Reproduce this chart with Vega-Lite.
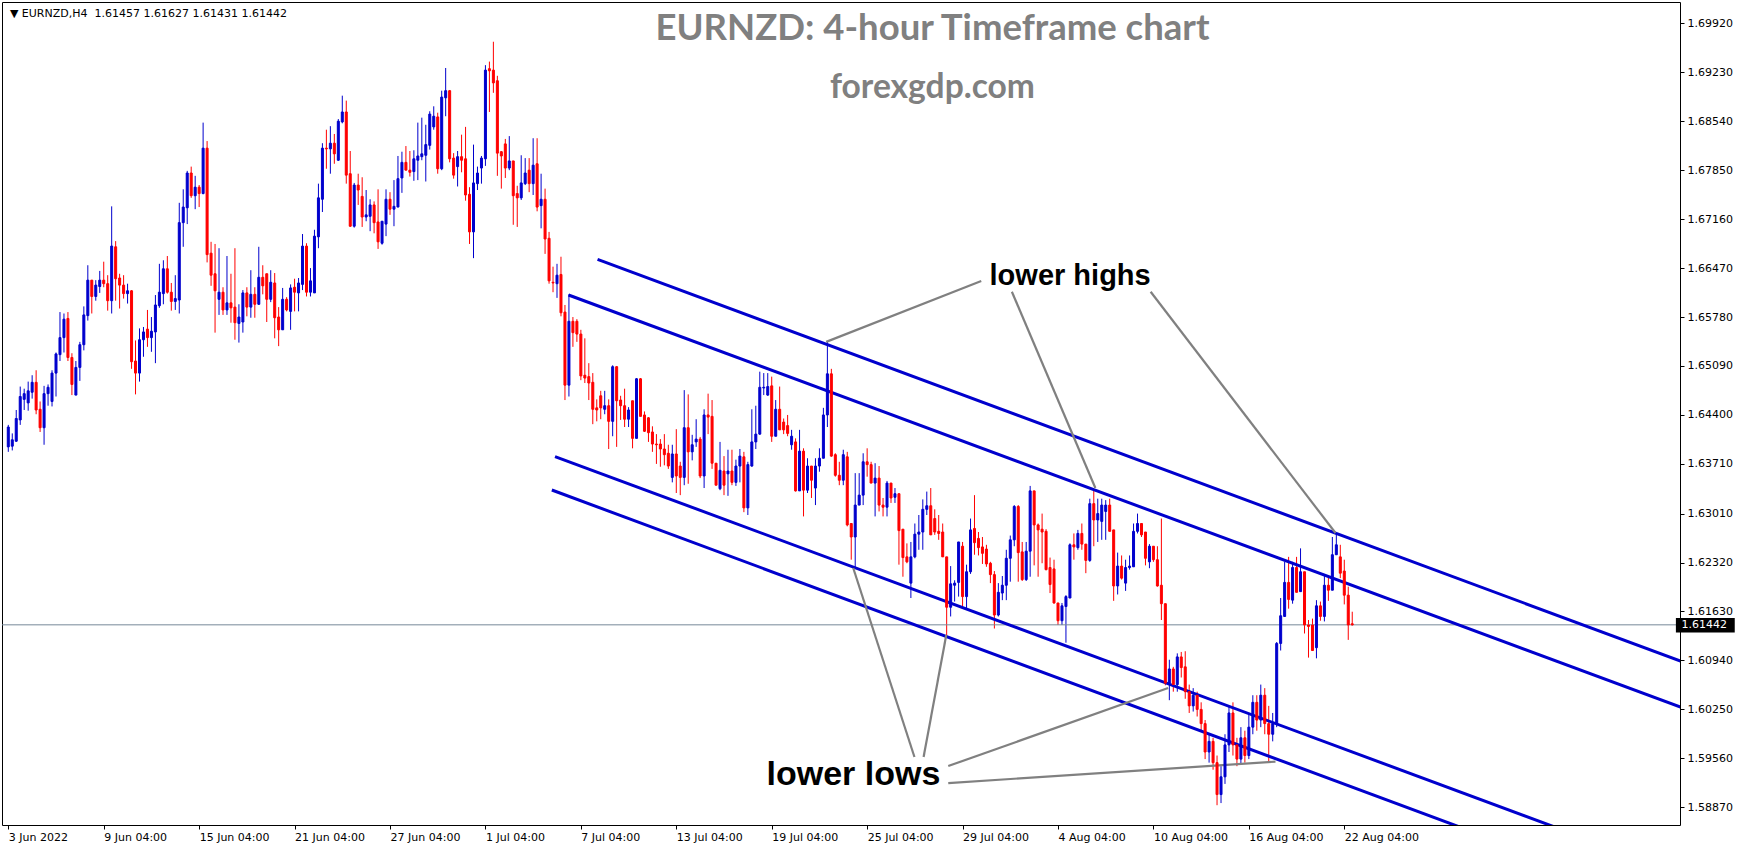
{
"$schema": "https://vega.github.io/schema/vega-lite/v6.json",
"width": 1678, "height": 823,
"autosize": {"type": "none"},
"padding": {"left": 2, "top": 2, "right": 66, "bottom": 25},
"background": "white",
"title": {"text": "EURNZD: 4-hour Timeframe chart", "subtitle": "forexgdp.com", "orient": "top", "anchor": "middle", "frame": "group", "offset": -102.1, "dx": 91.5, "font": "Lato", "fontSize": 36.5, "fontWeight": "bold", "color": "#808080", "subtitleFont": "Lato", "subtitleFontSize": 33.6, "subtitleFontWeight": "bold", "subtitleColor": "#808080", "subtitlePadding": 22.8},
"datasets": {
"candles": [
{"i":0,"o":1.6395,"h":1.6426,"l":1.6388,"c":1.6423},
{"i":1,"o":1.6396,"h":1.6414,"l":1.6390,"c":1.6405},
{"i":2,"o":1.6403,"h":1.6447,"l":1.6402,"c":1.6435},
{"i":3,"o":1.6433,"h":1.6480,"l":1.6426,"c":1.6466},
{"i":4,"o":1.6462,"h":1.6477,"l":1.6447,"c":1.6470},
{"i":5,"o":1.6457,"h":1.6487,"l":1.6446,"c":1.6474},
{"i":6,"o":1.6472,"h":1.6496,"l":1.6463,"c":1.6486},
{"i":7,"o":1.6486,"h":1.6503,"l":1.6441,"c":1.6447},
{"i":8,"o":1.6448,"h":1.6459,"l":1.6416,"c":1.6422},
{"i":9,"o":1.6422,"h":1.6481,"l":1.6398,"c":1.6470},
{"i":10,"o":1.6470,"h":1.6483,"l":1.6453,"c":1.6479},
{"i":11,"o":1.6459,"h":1.6503,"l":1.6452,"c":1.6499},
{"i":12,"o":1.6499,"h":1.6528,"l":1.6466,"c":1.6526},
{"i":13,"o":1.6525,"h":1.6585,"l":1.6516,"c":1.6549},
{"i":14,"o":1.6549,"h":1.6583,"l":1.6528,"c":1.6575},
{"i":15,"o":1.6576,"h":1.6585,"l":1.6516,"c":1.6521},
{"i":16,"o":1.6521,"h":1.6527,"l":1.6468,"c":1.6483},
{"i":17,"o":1.6468,"h":1.6516,"l":1.6468,"c":1.6507},
{"i":18,"o":1.6507,"h":1.6543,"l":1.6488,"c":1.6539},
{"i":19,"o":1.6539,"h":1.6593,"l":1.6531,"c":1.6581},
{"i":20,"o":1.6580,"h":1.6651,"l":1.6573,"c":1.6630},
{"i":21,"o":1.6630,"h":1.6630,"l":1.6583,"c":1.6607},
{"i":22,"o":1.6607,"h":1.6630,"l":1.6601,"c":1.6623},
{"i":23,"o":1.6621,"h":1.6643,"l":1.6612,"c":1.6630},
{"i":24,"o":1.6630,"h":1.6656,"l":1.6620,"c":1.6625},
{"i":25,"o":1.6625,"h":1.6637,"l":1.6587,"c":1.6601},
{"i":26,"o":1.6601,"h":1.6734,"l":1.6583,"c":1.6678},
{"i":27,"o":1.6677,"h":1.6685,"l":1.6601,"c":1.6632},
{"i":28,"o":1.6633,"h":1.6639,"l":1.6590,"c":1.6623},
{"i":29,"o":1.6623,"h":1.6637,"l":1.6604,"c":1.6611},
{"i":30,"o":1.6611,"h":1.6625,"l":1.6597,"c":1.6615},
{"i":31,"o":1.6615,"h":1.6616,"l":1.6505,"c":1.6515},
{"i":32,"o":1.6516,"h":1.6545,"l":1.6469,"c":1.6499},
{"i":33,"o":1.6499,"h":1.6562,"l":1.6487,"c":1.6546},
{"i":34,"o":1.6546,"h":1.6564,"l":1.6522,"c":1.6557},
{"i":35,"o":1.6561,"h":1.6588,"l":1.6536,"c":1.6549},
{"i":36,"o":1.6549,"h":1.6578,"l":1.6529,"c":1.6558},
{"i":37,"o":1.6557,"h":1.6609,"l":1.6513,"c":1.6595},
{"i":38,"o":1.6594,"h":1.6653,"l":1.6591,"c":1.6613},
{"i":39,"o":1.6611,"h":1.6658,"l":1.6596,"c":1.6646},
{"i":40,"o":1.6646,"h":1.6664,"l":1.6611,"c":1.6613},
{"i":41,"o":1.6613,"h":1.6626,"l":1.6587,"c":1.6600},
{"i":42,"o":1.6600,"h":1.6637,"l":1.6588,"c":1.6604},
{"i":43,"o":1.6602,"h":1.6739,"l":1.6583,"c":1.6711},
{"i":44,"o":1.6711,"h":1.6758,"l":1.6677,"c":1.6733},
{"i":45,"o":1.6732,"h":1.6784,"l":1.6709,"c":1.6781},
{"i":46,"o":1.6781,"h":1.6790,"l":1.6746,"c":1.6749},
{"i":47,"o":1.6749,"h":1.6777,"l":1.6730,"c":1.6761},
{"i":48,"o":1.6761,"h":1.6764,"l":1.6733,"c":1.6752},
{"i":49,"o":1.6752,"h":1.6852,"l":1.6751,"c":1.6816},
{"i":50,"o":1.6816,"h":1.6826,"l":1.6655,"c":1.6666},
{"i":51,"o":1.6668,"h":1.6684,"l":1.6622,"c":1.6637},
{"i":52,"o":1.6639,"h":1.6681,"l":1.6556,"c":1.6615},
{"i":53,"o":1.6603,"h":1.6675,"l":1.6581,"c":1.6613},
{"i":54,"o":1.6613,"h":1.6620,"l":1.6581,"c":1.6588},
{"i":55,"o":1.6588,"h":1.6664,"l":1.6581,"c":1.6598},
{"i":56,"o":1.6598,"h":1.6639,"l":1.6570,"c":1.6591},
{"i":57,"o":1.6592,"h":1.6675,"l":1.6546,"c":1.6570},
{"i":58,"o":1.6569,"h":1.6596,"l":1.6542,"c":1.6578},
{"i":59,"o":1.6571,"h":1.6616,"l":1.6556,"c":1.6612},
{"i":60,"o":1.6612,"h":1.6620,"l":1.6579,"c":1.6592},
{"i":61,"o":1.6592,"h":1.6644,"l":1.6577,"c":1.6610},
{"i":62,"o":1.6610,"h":1.6620,"l":1.6577,"c":1.6596},
{"i":63,"o":1.6596,"h":1.6677,"l":1.6595,"c":1.6634},
{"i":64,"o":1.6634,"h":1.6651,"l":1.6610,"c":1.6622},
{"i":65,"o":1.6639,"h":1.6639,"l":1.6571,"c":1.6603},
{"i":66,"o":1.6603,"h":1.6644,"l":1.6599,"c":1.6627},
{"i":67,"o":1.6626,"h":1.6640,"l":1.6548,"c":1.6577},
{"i":68,"o":1.6578,"h":1.6592,"l":1.6537,"c":1.6560},
{"i":69,"o":1.6560,"h":1.6619,"l":1.6560,"c":1.6603},
{"i":70,"o":1.6603,"h":1.6606,"l":1.6586,"c":1.6588},
{"i":71,"o":1.6586,"h":1.6624,"l":1.6560,"c":1.6619},
{"i":72,"o":1.6620,"h":1.6632,"l":1.6586,"c":1.6613},
{"i":73,"o":1.6612,"h":1.6633,"l":1.6586,"c":1.6626},
{"i":74,"o":1.6624,"h":1.6695,"l":1.6616,"c":1.6678},
{"i":75,"o":1.6678,"h":1.6682,"l":1.6607,"c":1.6613},
{"i":76,"o":1.6613,"h":1.6647,"l":1.6607,"c":1.6629},
{"i":77,"o":1.6612,"h":1.6701,"l":1.6612,"c":1.6692},
{"i":78,"o":1.6691,"h":1.6766,"l":1.6675,"c":1.6746},
{"i":79,"o":1.6744,"h":1.6823,"l":1.6726,"c":1.6816},
{"i":80,"o":1.6816,"h":1.6842,"l":1.6787,"c":1.6815},
{"i":81,"o":1.6815,"h":1.6847,"l":1.6780,"c":1.6823},
{"i":82,"o":1.6823,"h":1.6836,"l":1.6794,"c":1.6808},
{"i":83,"o":1.6799,"h":1.6857,"l":1.6798,"c":1.6854},
{"i":84,"o":1.6853,"h":1.6890,"l":1.6851,"c":1.6867},
{"i":85,"o":1.6867,"h":1.6883,"l":1.6766,"c":1.6778},
{"i":86,"o":1.6780,"h":1.6812,"l":1.6705,"c":1.6706},
{"i":87,"o":1.6706,"h":1.6767,"l":1.6704,"c":1.6764},
{"i":88,"o":1.6764,"h":1.6780,"l":1.6736,"c":1.6757},
{"i":89,"o":1.6748,"h":1.6775,"l":1.6705,"c":1.6719},
{"i":90,"o":1.6719,"h":1.6757,"l":1.6713,"c":1.6722},
{"i":91,"o":1.6720,"h":1.6744,"l":1.6699,"c":1.6736},
{"i":92,"o":1.6736,"h":1.6741,"l":1.6696,"c":1.6711},
{"i":93,"o":1.6712,"h":1.6758,"l":1.6674,"c":1.6684},
{"i":94,"o":1.6682,"h":1.6713,"l":1.6680,"c":1.6713},
{"i":95,"o":1.6709,"h":1.6758,"l":1.6692,"c":1.6744},
{"i":96,"o":1.6744,"h":1.6754,"l":1.6722,"c":1.6730},
{"i":97,"o":1.6730,"h":1.6771,"l":1.6706,"c":1.6734},
{"i":98,"o":1.6733,"h":1.6805,"l":1.6733,"c":1.6773},
{"i":99,"o":1.6774,"h":1.6811,"l":1.6753,"c":1.6796},
{"i":100,"o":1.6796,"h":1.6819,"l":1.6785,"c":1.6785},
{"i":101,"o":1.6785,"h":1.6812,"l":1.6776,"c":1.6782},
{"i":102,"o":1.6783,"h":1.6813,"l":1.6770,"c":1.6801},
{"i":103,"o":1.6799,"h":1.6852,"l":1.6771,"c":1.6805},
{"i":104,"o":1.6804,"h":1.6859,"l":1.6799,"c":1.6808},
{"i":105,"o":1.6806,"h":1.6849,"l":1.6769,"c":1.6821},
{"i":106,"o":1.6820,"h":1.6868,"l":1.6814,"c":1.6864},
{"i":107,"o":1.6846,"h":1.6875,"l":1.6842,"c":1.6861},
{"i":108,"o":1.6860,"h":1.6866,"l":1.6780,"c":1.6787},
{"i":109,"o":1.6787,"h":1.6897,"l":1.6785,"c":1.6888},
{"i":110,"o":1.6887,"h":1.6929,"l":1.6861,"c":1.6897},
{"i":111,"o":1.6897,"h":1.6898,"l":1.6796,"c":1.6801},
{"i":112,"o":1.6802,"h":1.6809,"l":1.6773,"c":1.6778},
{"i":113,"o":1.6790,"h":1.6812,"l":1.6762,"c":1.6804},
{"i":114,"o":1.6804,"h":1.6835,"l":1.6782,"c":1.6799},
{"i":115,"o":1.6801,"h":1.6846,"l":1.6742,"c":1.6750},
{"i":116,"o":1.6751,"h":1.6761,"l":1.6681,"c":1.6698},
{"i":117,"o":1.6698,"h":1.6821,"l":1.6661,"c":1.6767},
{"i":118,"o":1.6766,"h":1.6790,"l":1.6757,"c":1.6781},
{"i":119,"o":1.6788,"h":1.6805,"l":1.6766,"c":1.6802},
{"i":120,"o":1.6801,"h":1.6933,"l":1.6791,"c":1.6926},
{"i":121,"o":1.6928,"h":1.6938,"l":1.6867,"c":1.6925},
{"i":122,"o":1.6926,"h":1.6966,"l":1.6894,"c":1.6908},
{"i":123,"o":1.6911,"h":1.6918,"l":1.6777,"c":1.6809},
{"i":124,"o":1.6811,"h":1.6812,"l":1.6759,"c":1.6805},
{"i":125,"o":1.6822,"h":1.6829,"l":1.6774,"c":1.6788},
{"i":126,"o":1.6788,"h":1.6833,"l":1.6785,"c":1.6798},
{"i":127,"o":1.6798,"h":1.6798,"l":1.6708,"c":1.6749},
{"i":128,"o":1.6752,"h":1.6763,"l":1.6705,"c":1.6746},
{"i":129,"o":1.6746,"h":1.6806,"l":1.6743,"c":1.6767},
{"i":130,"o":1.6766,"h":1.6802,"l":1.6764,"c":1.6781},
{"i":131,"o":1.6785,"h":1.6802,"l":1.6754,"c":1.6766},
{"i":132,"o":1.6766,"h":1.6830,"l":1.6750,"c":1.6792},
{"i":133,"o":1.6794,"h":1.6830,"l":1.6727,"c":1.6733},
{"i":134,"o":1.6735,"h":1.6780,"l":1.6703,"c":1.6744},
{"i":135,"o":1.6744,"h":1.6759,"l":1.6667,"c":1.6688},
{"i":136,"o":1.6689,"h":1.6698,"l":1.6625,"c":1.6629},
{"i":137,"o":1.6627,"h":1.6649,"l":1.6613,"c":1.6626},
{"i":138,"o":1.6625,"h":1.6653,"l":1.6605,"c":1.6637},
{"i":139,"o":1.6638,"h":1.6663,"l":1.6579,"c":1.6584},
{"i":140,"o":1.6585,"h":1.6595,"l":1.6461,"c":1.6482},
{"i":141,"o":1.6482,"h":1.6610,"l":1.6466,"c":1.6572},
{"i":142,"o":1.6572,"h":1.6578,"l":1.6536,"c":1.6556},
{"i":143,"o":1.6572,"h":1.6575,"l":1.6543,"c":1.6554},
{"i":144,"o":1.6554,"h":1.6560,"l":1.6489,"c":1.6495},
{"i":145,"o":1.6496,"h":1.6548,"l":1.6485,"c":1.6492},
{"i":146,"o":1.6494,"h":1.6513,"l":1.6461,"c":1.6485},
{"i":147,"o":1.6486,"h":1.6499,"l":1.6427,"c":1.6448},
{"i":148,"o":1.6450,"h":1.6462,"l":1.6431,"c":1.6447},
{"i":149,"o":1.6467,"h":1.6474,"l":1.6434,"c":1.6450},
{"i":150,"o":1.6448,"h":1.6474,"l":1.6441,"c":1.6453},
{"i":151,"o":1.6453,"h":1.6462,"l":1.6392,"c":1.6431},
{"i":152,"o":1.6431,"h":1.6510,"l":1.6410,"c":1.6508},
{"i":153,"o":1.6508,"h":1.6509,"l":1.6395,"c":1.6460},
{"i":154,"o":1.6461,"h":1.6467,"l":1.6433,"c":1.6453},
{"i":155,"o":1.6453,"h":1.6477,"l":1.6423,"c":1.6434},
{"i":156,"o":1.6434,"h":1.6451,"l":1.6423,"c":1.6447},
{"i":157,"o":1.6460,"h":1.6460,"l":1.6393,"c":1.6407},
{"i":158,"o":1.6407,"h":1.6492,"l":1.6407,"c":1.6491},
{"i":159,"o":1.6491,"h":1.6492,"l":1.6438,"c":1.6438},
{"i":160,"o":1.6440,"h":1.6445,"l":1.6416,"c":1.6417},
{"i":161,"o":1.6436,"h":1.6437,"l":1.6402,"c":1.6415},
{"i":162,"o":1.6416,"h":1.6424,"l":1.6388,"c":1.6399},
{"i":163,"o":1.6399,"h":1.6413,"l":1.6371,"c":1.6398},
{"i":164,"o":1.6399,"h":1.6406,"l":1.6367,"c":1.6392},
{"i":165,"o":1.6392,"h":1.6413,"l":1.6369,"c":1.6384},
{"i":166,"o":1.6386,"h":1.6398,"l":1.6364,"c":1.6368},
{"i":167,"o":1.6352,"h":1.6398,"l":1.6345,"c":1.6385},
{"i":168,"o":1.6385,"h":1.6420,"l":1.6330,"c":1.6354},
{"i":169,"o":1.6368,"h":1.6374,"l":1.6327,"c":1.6352},
{"i":170,"o":1.6352,"h":1.6475,"l":1.6341,"c":1.6422},
{"i":171,"o":1.6422,"h":1.6469,"l":1.6343,"c":1.6388},
{"i":172,"o":1.6388,"h":1.6412,"l":1.6376,"c":1.6398},
{"i":173,"o":1.6402,"h":1.6434,"l":1.6395,"c":1.6406},
{"i":174,"o":1.6406,"h":1.6409,"l":1.6351,"c":1.6354},
{"i":175,"o":1.6354,"h":1.6448,"l":1.6337,"c":1.6440},
{"i":176,"o":1.6440,"h":1.6470,"l":1.6413,"c":1.6437},
{"i":177,"o":1.6438,"h":1.6461,"l":1.6364,"c":1.6372},
{"i":178,"o":1.6372,"h":1.6372,"l":1.6341,"c":1.6341},
{"i":179,"o":1.6336,"h":1.6402,"l":1.6334,"c":1.6362},
{"i":180,"o":1.6361,"h":1.6382,"l":1.6327,"c":1.6341},
{"i":181,"o":1.6357,"h":1.6391,"l":1.6326,"c":1.6361},
{"i":182,"o":1.6361,"h":1.6391,"l":1.6341,"c":1.6345},
{"i":183,"o":1.6345,"h":1.6377,"l":1.6340,"c":1.6368},
{"i":184,"o":1.6368,"h":1.6392,"l":1.6345,"c":1.6382},
{"i":185,"o":1.6381,"h":1.6388,"l":1.6303,"c":1.6309},
{"i":186,"o":1.6309,"h":1.6374,"l":1.6299,"c":1.6370},
{"i":187,"o":1.6368,"h":1.6448,"l":1.6367,"c":1.6402},
{"i":188,"o":1.6402,"h":1.6453,"l":1.6392,"c":1.6413},
{"i":189,"o":1.6413,"h":1.6501,"l":1.6412,"c":1.6479},
{"i":190,"o":1.6478,"h":1.6499,"l":1.6468,"c":1.6479},
{"i":191,"o":1.6468,"h":1.6499,"l":1.6467,"c":1.6480},
{"i":192,"o":1.6481,"h":1.6494,"l":1.6402,"c":1.6410},
{"i":193,"o":1.6410,"h":1.6461,"l":1.6410,"c":1.6448},
{"i":194,"o":1.6448,"h":1.6480,"l":1.6419,"c":1.6419},
{"i":195,"o":1.6430,"h":1.6435,"l":1.6413,"c":1.6419},
{"i":196,"o":1.6425,"h":1.6440,"l":1.6410,"c":1.6414},
{"i":197,"o":1.6398,"h":1.6419,"l":1.6391,"c":1.6410},
{"i":198,"o":1.6402,"h":1.6407,"l":1.6332,"c":1.6333},
{"i":199,"o":1.6333,"h":1.6419,"l":1.6333,"c":1.6389},
{"i":200,"o":1.6389,"h":1.6393,"l":1.6297,"c":1.6334},
{"i":201,"o":1.6334,"h":1.6379,"l":1.6330,"c":1.6368},
{"i":202,"o":1.6368,"h":1.6368,"l":1.6323,"c":1.6348},
{"i":203,"o":1.6337,"h":1.6379,"l":1.6313,"c":1.6368},
{"i":204,"o":1.6368,"h":1.6393,"l":1.6360,"c":1.6379},
{"i":205,"o":1.6379,"h":1.6450,"l":1.6379,"c":1.6440},
{"i":206,"o":1.6440,"h":1.6543,"l":1.6423,"c":1.6498},
{"i":207,"o":1.6498,"h":1.6505,"l":1.6381,"c":1.6382},
{"i":208,"o":1.6384,"h":1.6386,"l":1.6353,"c":1.6355},
{"i":209,"o":1.6355,"h":1.6374,"l":1.6341,"c":1.6348},
{"i":210,"o":1.6348,"h":1.6391,"l":1.6341,"c":1.6384},
{"i":211,"o":1.6381,"h":1.6388,"l":1.6283,"c":1.6285},
{"i":212,"o":1.6287,"h":1.6287,"l":1.6236,"c":1.6268},
{"i":213,"o":1.6268,"h":1.6358,"l":1.6224,"c":1.6313},
{"i":214,"o":1.6313,"h":1.6358,"l":1.6313,"c":1.6327},
{"i":215,"o":1.6327,"h":1.6386,"l":1.6313,"c":1.6374},
{"i":216,"o":1.6374,"h":1.6393,"l":1.6353,"c":1.6370},
{"i":217,"o":1.6370,"h":1.6374,"l":1.6344,"c":1.6344},
{"i":218,"o":1.6344,"h":1.6372,"l":1.6297,"c":1.6351},
{"i":219,"o":1.6351,"h":1.6368,"l":1.6304,"c":1.6313},
{"i":220,"o":1.6313,"h":1.6323,"l":1.6297,"c":1.6310},
{"i":221,"o":1.6310,"h":1.6347,"l":1.6297,"c":1.6344},
{"i":222,"o":1.6344,"h":1.6344,"l":1.6316,"c":1.6323},
{"i":223,"o":1.6324,"h":1.6337,"l":1.6316,"c":1.6329},
{"i":224,"o":1.6329,"h":1.6329,"l":1.6229,"c":1.6277},
{"i":225,"o":1.6279,"h":1.6279,"l":1.6212,"c":1.6239},
{"i":226,"o":1.6240,"h":1.6259,"l":1.6231,"c":1.6233},
{"i":227,"o":1.6203,"h":1.6261,"l":1.6182,"c":1.6240},
{"i":228,"o":1.6240,"h":1.6287,"l":1.6238,"c":1.6272},
{"i":229,"o":1.6272,"h":1.6299,"l":1.6250,"c":1.6275},
{"i":230,"o":1.6275,"h":1.6321,"l":1.6250,"c":1.6307},
{"i":231,"o":1.6307,"h":1.6332,"l":1.6299,"c":1.6312},
{"i":232,"o":1.6312,"h":1.6337,"l":1.6271,"c":1.6271},
{"i":233,"o":1.6294,"h":1.6307,"l":1.6271,"c":1.6275},
{"i":234,"o":1.6276,"h":1.6299,"l":1.6264,"c":1.6273},
{"i":235,"o":1.6275,"h":1.6287,"l":1.6240,"c":1.6240},
{"i":236,"o":1.6240,"h":1.6240,"l":1.6128,"c":1.6169},
{"i":237,"o":1.6169,"h":1.6227,"l":1.6156,"c":1.6202},
{"i":238,"o":1.6200,"h":1.6207,"l":1.6177,"c":1.6203},
{"i":239,"o":1.6204,"h":1.6261,"l":1.6184,"c":1.6261},
{"i":240,"o":1.6255,"h":1.6261,"l":1.6170,"c":1.6184},
{"i":241,"o":1.6184,"h":1.6229,"l":1.6167,"c":1.6219},
{"i":242,"o":1.6219,"h":1.6294,"l":1.6216,"c":1.6278},
{"i":243,"o":1.6280,"h":1.6327,"l":1.6243,"c":1.6260},
{"i":244,"o":1.6266,"h":1.6275,"l":1.6242,"c":1.6253},
{"i":245,"o":1.6254,"h":1.6268,"l":1.6230,"c":1.6245},
{"i":246,"o":1.6251,"h":1.6257,"l":1.6226,"c":1.6230},
{"i":247,"o":1.6231,"h":1.6233,"l":1.6203,"c":1.6215},
{"i":248,"o":1.6215,"h":1.6220,"l":1.6139,"c":1.6158},
{"i":249,"o":1.6158,"h":1.6203,"l":1.6156,"c":1.6190},
{"i":250,"o":1.6189,"h":1.6213,"l":1.6179,"c":1.6200},
{"i":251,"o":1.6200,"h":1.6250,"l":1.6179,"c":1.6238},
{"i":252,"o":1.6238,"h":1.6270,"l":1.6205,"c":1.6264},
{"i":253,"o":1.6264,"h":1.6313,"l":1.6255,"c":1.6311},
{"i":254,"o":1.6311,"h":1.6313,"l":1.6205,"c":1.6246},
{"i":255,"o":1.6247,"h":1.6261,"l":1.6206,"c":1.6208},
{"i":256,"o":1.6208,"h":1.6261,"l":1.6206,"c":1.6248},
{"i":257,"o":1.6248,"h":1.6340,"l":1.6212,"c":1.6333},
{"i":258,"o":1.6333,"h":1.6333,"l":1.6228,"c":1.6285},
{"i":259,"o":1.6285,"h":1.6287,"l":1.6212,"c":1.6278},
{"i":260,"o":1.6279,"h":1.6301,"l":1.6231,"c":1.6275},
{"i":261,"o":1.6276,"h":1.6279,"l":1.6221,"c":1.6222},
{"i":262,"o":1.6225,"h":1.6239,"l":1.6189,"c":1.6201},
{"i":263,"o":1.6223,"h":1.6236,"l":1.6174,"c":1.6175},
{"i":264,"o":1.6175,"h":1.6175,"l":1.6144,"c":1.6150},
{"i":265,"o":1.6150,"h":1.6175,"l":1.6144,"c":1.6171},
{"i":266,"o":1.6170,"h":1.6186,"l":1.6119,"c":1.6184},
{"i":267,"o":1.6182,"h":1.6259,"l":1.6182,"c":1.6257},
{"i":268,"o":1.6257,"h":1.6273,"l":1.6236,"c":1.6254},
{"i":269,"o":1.6253,"h":1.6278,"l":1.6250,"c":1.6273},
{"i":270,"o":1.6273,"h":1.6287,"l":1.6250,"c":1.6258},
{"i":271,"o":1.6258,"h":1.6258,"l":1.6217,"c":1.6235},
{"i":272,"o":1.6235,"h":1.6322,"l":1.6233,"c":1.6315},
{"i":273,"o":1.6315,"h":1.6335,"l":1.6255,"c":1.6292},
{"i":274,"o":1.6292,"h":1.6322,"l":1.6261,"c":1.6301},
{"i":275,"o":1.6290,"h":1.6322,"l":1.6264,"c":1.6313},
{"i":276,"o":1.6304,"h":1.6320,"l":1.6264,"c":1.6313},
{"i":277,"o":1.6313,"h":1.6322,"l":1.6276,"c":1.6276},
{"i":278,"o":1.6278,"h":1.6278,"l":1.6178,"c":1.6199},
{"i":279,"o":1.6199,"h":1.6246,"l":1.6187,"c":1.6227},
{"i":280,"o":1.6227,"h":1.6242,"l":1.6208,"c":1.6210},
{"i":281,"o":1.6203,"h":1.6236,"l":1.6192,"c":1.6225},
{"i":282,"o":1.6225,"h":1.6242,"l":1.6222,"c":1.6227},
{"i":283,"o":1.6226,"h":1.6287,"l":1.6226,"c":1.6276},
{"i":284,"o":1.6276,"h":1.6301,"l":1.6273,"c":1.6287},
{"i":285,"o":1.6287,"h":1.6287,"l":1.6268,"c":1.6271},
{"i":286,"o":1.6275,"h":1.6275,"l":1.6228,"c":1.6238},
{"i":287,"o":1.6233,"h":1.6258,"l":1.6224,"c":1.6255},
{"i":288,"o":1.6255,"h":1.6255,"l":1.6233,"c":1.6236},
{"i":289,"o":1.6236,"h":1.6255,"l":1.6198,"c":1.6199},
{"i":290,"o":1.6200,"h":1.6294,"l":1.6151,"c":1.6174},
{"i":291,"o":1.6174,"h":1.6174,"l":1.6059,"c":1.6062},
{"i":292,"o":1.6062,"h":1.6095,"l":1.6038,"c":1.6082},
{"i":293,"o":1.6082,"h":1.6085,"l":1.6050,"c":1.6060},
{"i":294,"o":1.6060,"h":1.6104,"l":1.6050,"c":1.6099},
{"i":295,"o":1.6099,"h":1.6106,"l":1.6070,"c":1.6084},
{"i":296,"o":1.6085,"h":1.6107,"l":1.6040,"c":1.6050},
{"i":297,"o":1.6050,"h":1.6060,"l":1.6020,"c":1.6030},
{"i":298,"o":1.6030,"h":1.6055,"l":1.6022,"c":1.6045},
{"i":299,"o":1.6045,"h":1.6050,"l":1.6015,"c":1.6025},
{"i":300,"o":1.6025,"h":1.6035,"l":1.5995,"c":1.6005},
{"i":301,"o":1.6005,"h":1.6010,"l":1.5955,"c":1.5965},
{"i":302,"o":1.5965,"h":1.5990,"l":1.5950,"c":1.5980},
{"i":303,"o":1.5980,"h":1.5985,"l":1.5940,"c":1.5950},
{"i":304,"o":1.5950,"h":1.5960,"l":1.5890,"c":1.5905},
{"i":305,"o":1.5905,"h":1.5945,"l":1.5893,"c":1.5930},
{"i":306,"o":1.5930,"h":1.5990,"l":1.5920,"c":1.5975},
{"i":307,"o":1.5975,"h":1.6030,"l":1.5965,"c":1.6020},
{"i":308,"o":1.6020,"h":1.6035,"l":1.5960,"c":1.5975},
{"i":309,"o":1.5975,"h":1.5985,"l":1.5945,"c":1.5955},
{"i":310,"o":1.5955,"h":1.6000,"l":1.5948,"c":1.5985},
{"i":311,"o":1.5985,"h":1.5995,"l":1.5950,"c":1.5960},
{"i":312,"o":1.5960,"h":1.6020,"l":1.5955,"c":1.6000},
{"i":313,"o":1.6000,"h":1.6045,"l":1.5990,"c":1.6035},
{"i":314,"o":1.6035,"h":1.6045,"l":1.5995,"c":1.6010},
{"i":315,"o":1.6010,"h":1.6060,"l":1.6000,"c":1.6045},
{"i":316,"o":1.6045,"h":1.6055,"l":1.5990,"c":1.6005},
{"i":317,"o":1.6005,"h":1.6030,"l":1.5950,"c":1.5990},
{"i":318,"o":1.5990,"h":1.6020,"l":1.5980,"c":1.6005},
{"i":319,"o":1.6005,"h":1.6120,"l":1.6000,"c":1.6118},
{"i":320,"o":1.6118,"h":1.6182,"l":1.6108,"c":1.6157},
{"i":321,"o":1.6156,"h":1.6233,"l":1.6156,"c":1.6204},
{"i":322,"o":1.6204,"h":1.6240,"l":1.6167,"c":1.6180},
{"i":323,"o":1.6179,"h":1.6233,"l":1.6174,"c":1.6225},
{"i":324,"o":1.6225,"h":1.6240,"l":1.6190,"c":1.6190},
{"i":325,"o":1.6191,"h":1.6252,"l":1.6191,"c":1.6219},
{"i":326,"o":1.6219,"h":1.6219,"l":1.6132,"c":1.6144},
{"i":327,"o":1.6144,"h":1.6151,"l":1.6098,"c":1.6142},
{"i":328,"o":1.6144,"h":1.6153,"l":1.6108,"c":1.6108},
{"i":329,"o":1.6112,"h":1.6179,"l":1.6097,"c":1.6171},
{"i":330,"o":1.6171,"h":1.6177,"l":1.6150,"c":1.6156},
{"i":331,"o":1.6156,"h":1.6213,"l":1.6149,"c":1.6200},
{"i":332,"o":1.6200,"h":1.6214,"l":1.6178,"c":1.6193},
{"i":333,"o":1.6193,"h":1.6268,"l":1.6193,"c":1.6243},
{"i":334,"o":1.6243,"h":1.6273,"l":1.6243,"c":1.6257},
{"i":335,"o":1.6240,"h":1.6257,"l":1.6210,"c":1.6217},
{"i":336,"o":1.6220,"h":1.6236,"l":1.6173,"c":1.6186},
{"i":337,"o":1.6186,"h":1.6198,"l":1.6123,"c":1.6144},
{"i":338,"o":1.61457,"h":1.61627,"l":1.61431,"c":1.61442}
],
"channels": [
{"ln":"upper","i":148.2,"p":1.66592},{"ln":"upper","i":425,"p":1.60839},
{"ln":"upper2","i":140.9,"p":1.66091},{"ln":"upper2","i":425,"p":1.60191},
{"ln":"lower","i":137.5,"p":1.63814},{"ln":"lower","i":392,"p":1.58529},
{"ln":"lower2","i":136.7,"p":1.63342},{"ln":"lower2","i":368,"p":1.58531}
],
"pointers": [
{"k":"h1","i":244.7,"p":1.66288},{"k":"h1","i":205.7,"p":1.6543},
{"k":"h2","i":252.4,"p":1.66137},{"k":"h2","i":273.4,"p":1.6337},
{"k":"h3","i":287.3,"p":1.66137},{"k":"h3","i":333.8,"p":1.62736},
{"k":"l1","i":227.9,"p":1.59579},{"k":"l1","i":212.5,"p":1.62243},
{"k":"l2","i":230.2,"p":1.59579},{"k":"l2","i":235.9,"p":1.61298},
{"k":"l3","i":236.4,"p":1.59452},{"k":"l3","i":291.7,"p":1.60551},
{"k":"l4","i":236.4,"p":1.59212},{"k":"l4","i":318.7,"p":1.59514}
]
},
"layer": [
{"data": {"name": "candles"},
 "mark": {"type": "rule", "strokeWidth": 1},
 "encoding": {
  "x": {"field": "i", "type": "quantitative", "title": null, "scale": {"domain": [-0.325, 419.175], "nice": false, "zero": false},
        "axis": {"title": null, "values": [0,24,48,72,96,120,144,168,192,216,240,264,288,312,336], "labelExpr": "['3 Jun 2022','9 Jun 04:00','15 Jun 04:00','21 Jun 04:00','27 Jun 04:00','1 Jul 04:00','7 Jul 04:00','13 Jul 04:00','19 Jul 04:00','25 Jul 04:00','29 Jul 04:00','4 Aug 04:00','10 Aug 04:00','16 Aug 04:00','22 Aug 04:00'][round(datum.value/24)]", "labelAlign": "left", "labelBaseline": "top", "labelPadding": 2, "labelFlush": false, "labelOverlap": false, "labelFont": "DejaVu Sans", "labelFontSize": 11, "labelColor": "#000000", "tickColor": "#000000", "tickSize": 4, "domain": false, "grid": false}},
  "y": {"field": "l", "type": "quantitative", "title": null, "scale": {"domain": [1.58621, 1.70220], "nice": false, "zero": false},
        "axis": {"title": null, "orient": "right", "values": [1.6992,1.6923,1.6854,1.6785,1.6716,1.6647,1.6578,1.6509,1.644,1.6371,1.6301,1.6232,1.6163,1.6094,1.6025,1.5956,1.5887], "format": ".5f", "labelPadding": 3, "labelOverlap": false, "labelFont": "DejaVu Sans", "labelFontSize": 11, "labelColor": "#000000", "tickColor": "#000000", "tickSize": 4, "domain": false, "grid": false}},
  "y2": {"field": "h"},
  "color": {"condition": {"test": "datum.c >= datum.o", "value": "#0000CD"}, "value": "#FF0000"}}},
{"data": {"values": [{"p": 1.61442}]},
 "mark": {"type": "rule", "color": "#778899", "strokeWidth": 1},
 "encoding": {"y": {"field": "p", "type": "quantitative", "title": null, "scale": {"domain": [1.58621, 1.70220], "nice": false, "zero": false}}}},
{"data": {"name": "channels"},
 "mark": {"type": "line", "color": "#0000CD", "strokeWidth": 3, "clip": true},
 "encoding": {
  "x": {"field": "i", "type": "quantitative", "title": null, "scale": {"domain": [-0.325, 419.175], "nice": false, "zero": false}},
  "y": {"field": "p", "type": "quantitative", "title": null, "scale": {"domain": [1.58621, 1.70220], "nice": false, "zero": false}},
  "detail": {"field": "ln"}}},
{"data": {"name": "pointers"},
 "mark": {"type": "line", "color": "#808080", "strokeWidth": 2.2, "clip": true},
 "encoding": {
  "x": {"field": "i", "type": "quantitative", "title": null, "scale": {"domain": [-0.325, 419.175], "nice": false, "zero": false}},
  "y": {"field": "p", "type": "quantitative", "title": null, "scale": {"domain": [1.58621, 1.70220], "nice": false, "zero": false}},
  "detail": {"field": "k"}}},
{"data": {"name": "candles"},
 "mark": {"type": "bar", "width": 2, "strokeWidth": 1},
 "encoding": {
  "x": {"field": "i", "type": "quantitative", "title": null, "scale": {"domain": [-0.325, 419.175], "nice": false, "zero": false}},
  "y": {"field": "o", "type": "quantitative", "title": null, "scale": {"domain": [1.58621, 1.70220], "nice": false, "zero": false}},
  "y2": {"field": "c"},
  "fill": {"condition": {"test": "datum.c >= datum.o", "value": "#0000CD"}, "value": "#FF0000"},
  "stroke": {"condition": {"test": "datum.c >= datum.o", "value": "#0000CD"}, "value": "#FF0000"}}},
{"data": {"values": [{"t": "lower highs", "i": 267.05, "p": 1.66231}]},
 "mark": {"type": "text", "font": "Liberation Sans", "fontWeight": "bold", "fontSize": 29, "align": "center", "baseline": "alphabetic", "color": "#000000"},
 "encoding": {
  "x": {"field": "i", "type": "quantitative", "title": null, "scale": {"domain": [-0.325, 419.175], "nice": false, "zero": false}},
  "y": {"field": "p", "type": "quantitative", "title": null, "scale": {"domain": [1.58621, 1.70220], "nice": false, "zero": false}},
  "text": {"field": "t"}}},
{"data": {"values": [{"t": "lower lows", "i": 212.55, "p": 1.59184}]},
 "mark": {"type": "text", "font": "Liberation Sans", "fontWeight": "bold", "fontSize": 34, "align": "center", "baseline": "alphabetic", "color": "#000000"},
 "encoding": {
  "x": {"field": "i", "type": "quantitative", "title": null, "scale": {"domain": [-0.325, 419.175], "nice": false, "zero": false}},
  "y": {"field": "p", "type": "quantitative", "title": null, "scale": {"domain": [1.58621, 1.70220], "nice": false, "zero": false}},
  "text": {"field": "t"}}},
{"data": {"values": [{"t": "▼ EURNZD,H4\u00a0\u00a01.61457 1.61627 1.61431 1.61442", "i": 0.4, "p": 1.70009}]},
 "mark": {"type": "text", "font": "DejaVu Sans", "fontSize": 11, "align": "left", "baseline": "alphabetic", "color": "#000000"},
 "encoding": {
  "x": {"field": "i", "type": "quantitative", "title": null, "scale": {"domain": [-0.325, 419.175], "nice": false, "zero": false}},
  "y": {"field": "p", "type": "quantitative", "title": null, "scale": {"domain": [1.58621, 1.70220], "nice": false, "zero": false}},
  "text": {"field": "t"}}},
{"data": {"values": [{"p": 1.61442}]},
 "mark": {"type": "rect", "color": "#000000", "clip": false},
 "encoding": {
  "x": {"datum": 419.4, "type": "quantitative", "title": null, "scale": {"domain": [-0.325, 419.175], "nice": false, "zero": false}},
  "x2": {"datum": 434.2},
  "y": {"datum": 1.61538, "type": "quantitative", "title": null, "scale": {"domain": [1.58621, 1.70220], "nice": false, "zero": false}},
  "y2": {"datum": 1.61334}}},
{"data": {"values": [{"p": 1.61442}]},
 "mark": {"type": "text", "font": "DejaVu Sans", "fontSize": 11, "align": "left", "baseline": "middle", "color": "#FFFFFF", "clip": false},
 "encoding": {
  "x": {"datum": 420.8, "type": "quantitative", "title": null, "scale": {"domain": [-0.325, 419.175], "nice": false, "zero": false}},
  "y": {"field": "p", "type": "quantitative", "title": null, "scale": {"domain": [1.58621, 1.70220], "nice": false, "zero": false}},
  "text": {"field": "p", "format": ".5f"}}}
],
"config": {"view": {"stroke": "#000000", "strokeWidth": 1, "fill": "#FFFFFF"}, "axis": {"grid": false, "domain": false}}
}
